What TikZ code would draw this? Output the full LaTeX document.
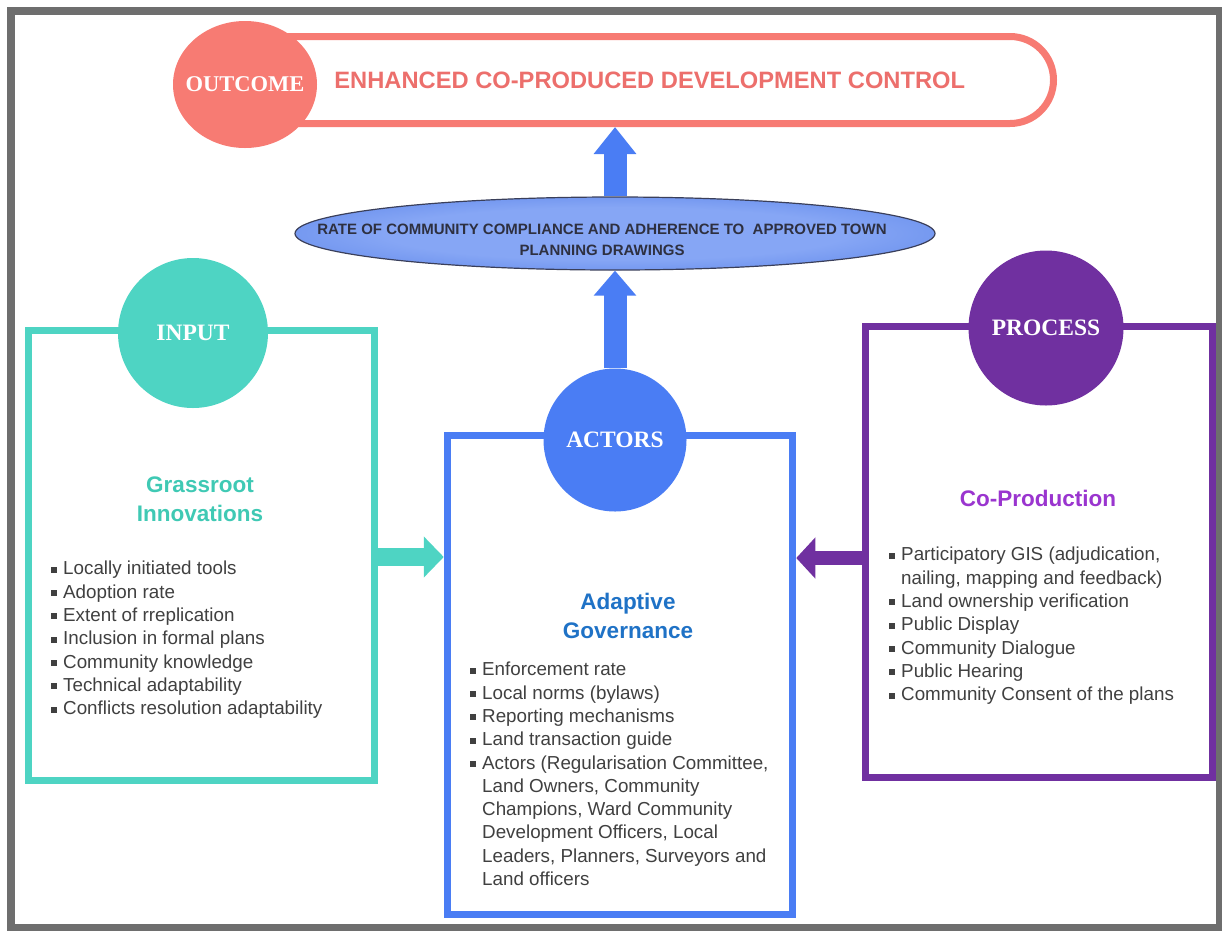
\documentclass[tikz,border=0pt]{standalone}
\usepackage{fontspec}
\setmainfont{Liberation Sans}
\newfontfamily\badgefont{Liberation Serif}
\usepackage{tikz}
\usetikzlibrary{arrows.meta,shapes.geometric}
\definecolor{FrameGray}{HTML}{6E6E6E}
\definecolor{OutSalmon}{HTML}{F77B73}
\definecolor{TitleSalmon}{HTML}{EC6F6C}
\definecolor{InTeal}{HTML}{4ED4C3}
\definecolor{InnoTeal}{HTML}{3FC9B4}
\definecolor{ActBlue}{HTML}{4A7DF4}
\definecolor{GovBlue}{HTML}{1F72C6}
\definecolor{ProcPurple}{HTML}{7030A0}
\definecolor{CoProd}{HTML}{9A35CF}
\definecolor{ListGray}{HTML}{404040}
\definecolor{EllLight}{HTML}{86A6F5}
\definecolor{EllDark}{HTML}{3A6AE0}
\definecolor{EllEdge}{HTML}{3A3F5A}
\definecolor{EllText}{HTML}{2E3040}
\pgfdeclareradialshading{ellglow}{\pgfpoint{0bp}{0bp}}{color(0bp)=(EllLight); color(18bp)=(EllLight); color(50bp)=(EllDark)}
\newcommand\sqb{\makebox[12pt][l]{\rule[2pt]{6pt}{6pt}}}
\newcommand\cnt{\hspace*{12pt}}

\begin{document}
\begin{tikzpicture}[x=1pt,y=-1pt,
    every node/.style={inner sep=0pt},
    box/.style={draw=#1, line width=7pt, fill=white},
    badge/.style={fill=#1, text=white,
      font=\badgefont\bfseries\fontsize{23.5}{26}\selectfont},
    hd/.style={text=#1, align=center, font=\bfseries\fontsize{22.5}{29}\selectfont},
    lst/.style={anchor=north west, align=left, text=ListGray,
      font=\fontsize{18.8}{23.3}\selectfont},
    blk/.style={draw=#1, line width=7pt, rounded corners=43.5pt}]
  \useasboundingbox (0,0) rectangle (1222,930);
  \draw[FrameGray, line width=8pt] (11,11) rectangle (1220,928);

  % outcome banner
  \node[blk=OutSalmon, minimum width=813.5pt, minimum height=87pt, text=TitleSalmon,
    font=\bfseries\fontsize{23.7}{26}\selectfont] (pill) at (646.75,80)
    {\hspace*{6pt}ENHANCED CO-PRODUCED DEVELOPMENT CONTROL};
  \node[ellipse, fill=OutSalmon, minimum width=144pt, minimum height=127pt]
    (outcirc) at (245,84.5) {};
  \node[badge=none, font=\badgefont\bfseries\fontsize{22.5}{26}\selectfont]
    (outlbl) at (outcirc) {OUTCOME};

  \node[ellipse, draw=EllEdge, line width=1.2pt, shading=ellglow,
    minimum width=640pt, minimum height=73pt] (ell) at (615,233.5) {};
  \node[align=center, text=EllText, font=\bfseries\fontsize{15}{21}\selectfont]
    (elltxt) at (602,240)
    {RATE OF COMMUNITY COMPLIANCE AND ADHERENCE TO\ \ APPROVED TOWN\\
     PLANNING DRAWINGS};

  % the three boxes
  \node[box=InTeal, minimum width=346pt, minimum height=450pt] (inbox) at (201.5,555) {};
  \node[box=ActBlue, minimum width=345.5pt, minimum height=479pt] (actbox) at (620,674.5) {};
  \node[box=ProcPurple, minimum width=347pt, minimum height=451pt] (procbox) at (1038.5,551.5) {};

  \node[badge=InTeal, circle, minimum size=150pt] (incirc) at (193,333) {INPUT};
  \node[badge=ActBlue, circle, minimum size=143pt] (actcirc) at (615,440) {ACTORS};
  \node[badge=ProcPurple, circle, minimum size=155pt] (proccirc) at (1046,328) {PROCESS};

  \node[hd=InnoTeal] (inhd) at (200,499.5) {Grassroot\\Innovations};
  \node[hd=GovBlue] (acthd) at (628,616) {Adaptive\\Governance};
  \node[hd=CoProd] (prochd) at (1038,498) {Co-Production};

  \node[lst] (inlist) at (51,561)
    {\sqb Locally initiated tools\\
     \sqb Adoption rate\\
     \sqb Extent of rreplication\\
     \sqb Inclusion in formal plans\\
     \sqb Community knowledge\\
     \sqb Technical adaptability\\
     \sqb Conflicts resolution adaptability};
  \node[lst] (actlist) at (470,662)
    {\sqb Enforcement rate\\
     \sqb Local norms (bylaws)\\
     \sqb Reporting mechanisms\\
     \sqb Land transaction guide\\
     \sqb Actors (Regularisation Committee,\\
     \cnt Land Owners, Community\\
     \cnt Champions, Ward Community\\
     \cnt Development Officers, Local\\
     \cnt Leaders, Planners, Surveyors and\\
     \cnt Land officers};
  \node[lst] (proclist) at (889,547)
    {\sqb Participatory GIS (adjudication,\\
     \cnt nailing, mapping and feedback)\\
     \sqb Land ownership verification\\
     \sqb Public Display\\
     \sqb Community Dialogue\\
     \sqb Public Hearing\\
     \sqb Community Consent of the plans};

  % block arrows
  \draw[ActBlue, line width=23pt, -{Triangle[length=27pt,width=41pt]}]
    (ell.north) -- (ell.north |- pill.south);
  \draw[ActBlue, line width=23pt, -{Triangle[length=25pt,width=41pt]}]
    (actcirc.north) -- (actcirc.north |- ell.south);
  \draw[InTeal, line width=18pt, -{Triangle[length=20pt,width=40pt]}]
    ([yshift=-2pt]inbox.east) -- ([yshift=-2pt]inbox.east -| actbox.west);
  \draw[ProcPurple, line width=14pt, -{Triangle[length=19pt,width=40pt]}]
    ([yshift=-6.5pt]procbox.west) -- ([yshift=-6.5pt]procbox.west -| actbox.east);
\end{tikzpicture}
\end{document}
